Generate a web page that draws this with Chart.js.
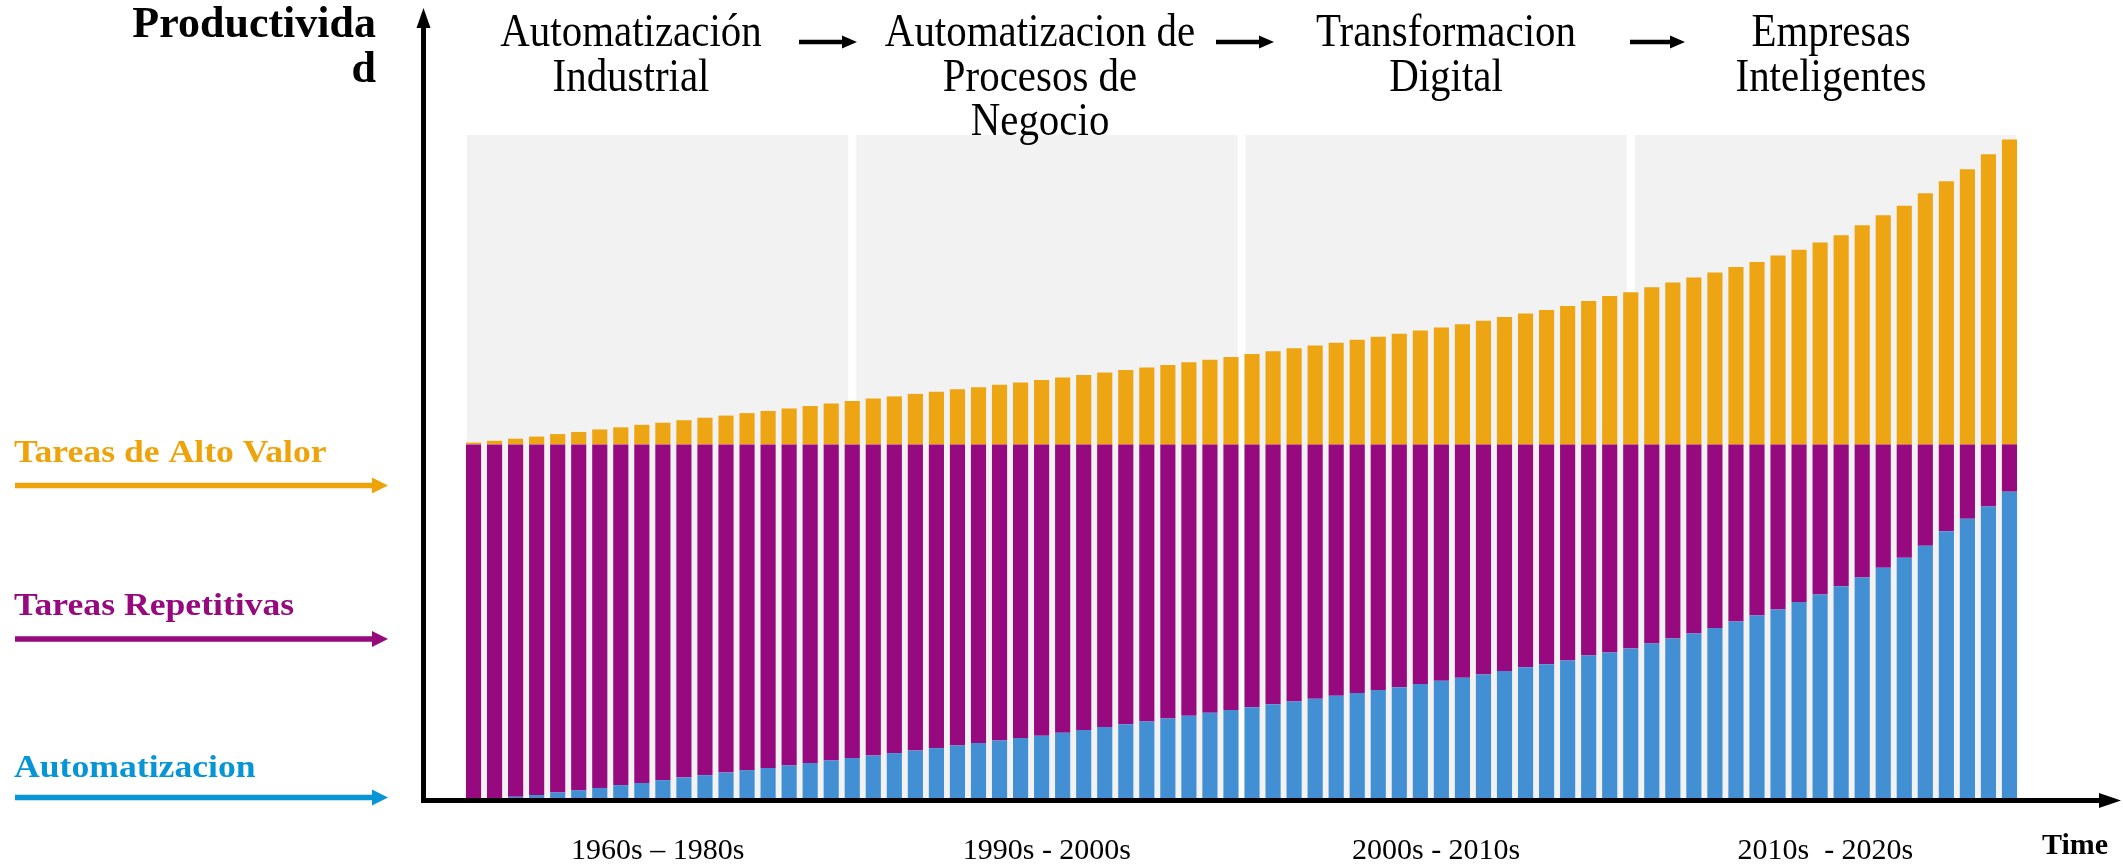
<!DOCTYPE html>
<html>
<head>
<meta charset="utf-8">
<script src="https://cdn.jsdelivr.net/npm/chart.js@4.4.1/dist/chart.umd.min.js"></script>
<style>
  body { margin: 0; background: #fff; }
  #wrap { width: 2123px; height: 865px; position: relative; }
</style>
</head>
<body>
<div id="wrap"><canvas id="chart"></canvas></div>
<script>
// bottom layer, blue
const automatizacion = [
  0, 0.3, 0.9, 1.4, 2.1, 2.7, 3.4, 4.2, 4.8, 5.6,
  6.3, 7.0, 7.7, 8.4, 9.0, 9.7, 10.4, 11.1, 11.8, 12.5,
  13.2, 13.9, 14.6, 15.3, 16.0, 16.7, 17.4, 18.1, 18.9, 19.7,
  20.5, 21.3, 22.1, 22.9, 23.7, 24.5, 25.3, 26.1, 26.9, 27.7,
  28.5, 29.3, 30.1, 30.9, 31.7, 32.6, 33.5, 34.4, 35.3, 36.3,
  37.3, 38.2, 39.2, 40.6, 41.5, 42.6, 44.0, 45.4, 46.8, 48.4,
  50.2, 51.9, 53.6, 55.7, 57.8, 60.1, 62.6, 65.3, 68.1, 71.5,
  75.6, 79.1, 82.5, 86.7
];

// middle layer, purple (blue + purple always reaches 100)
const repetitivas = [
  100, 99.7, 99.1, 98.6, 97.9, 97.3, 96.6, 95.8, 95.2, 94.4,
  93.7, 93.0, 92.3, 91.6, 91.0, 90.3, 89.6, 88.9, 88.2, 87.5,
  86.8, 86.1, 85.4, 84.7, 84.0, 83.3, 82.6, 81.9, 81.1, 80.3,
  79.5, 78.7, 77.9, 77.1, 76.3, 75.5, 74.7, 73.9, 73.1, 72.3,
  71.5, 70.7, 69.9, 69.1, 68.3, 67.4, 66.5, 65.6, 64.7, 63.7,
  62.7, 61.8, 60.8, 59.4, 58.5, 57.4, 56.0, 54.6, 53.2, 51.6,
  49.8, 48.1, 46.4, 44.3, 42.2, 39.9, 37.4, 34.7, 31.9, 28.5,
  24.4, 20.9, 17.5, 13.3
];

// top layer, orange
const altoValor = [
  0.5, 1.0, 1.6, 2.2, 2.9, 3.5, 4.2, 4.8, 5.5, 6.1,
  6.8, 7.5, 8.1, 8.8, 9.4, 10.1, 10.8, 11.5, 12.2, 12.9,
  13.5, 14.2, 14.8, 15.5, 16.1, 16.8, 17.4, 18.1, 18.8, 19.5,
  20.2, 20.9, 21.6, 22.3, 23.1, 23.8, 24.6, 25.4, 26.2, 27.0,
  27.8, 28.6, 29.4, 30.3, 31.1, 32.0, 32.9, 33.8, 34.8, 35.8,
  36.8, 37.8, 38.9, 40.3, 41.7, 42.8, 44.2, 45.5, 46.9, 48.3,
  49.9, 51.3, 53.1, 54.7, 56.8, 58.8, 61.6, 64.4, 67.1, 70.6,
  74.0, 77.4, 81.6, 85.7
];

const eraTitles = [
  ["Automatización", "Industrial"],
  ["Automatizacion de", "Procesos de", "Negocio"],
  ["Transformacion", "Digital"],
  ["Empresas", "Inteligentes"]
];
const eraLabels = ["1960s – 1980s", "1990s - 2000s", "2000s - 2010s", "2010s  - 2020s"];
const eraBreaks = [0, 18.5, 37, 55.5, 74];

const categories = automatizacion.map((v, i) => String(i + 1));

const ORANGE = "#EDA514";
const PURPLE = "#970A7F";
const BLUE = "#428FD3";

function arrow(ctx, x1, y1, x2, y2, color, width, headLen, headW) {
  const ang = Math.atan2(y2 - y1, x2 - x1);
  const bx = x2 - Math.cos(ang) * headLen;
  const by = y2 - Math.sin(ang) * headLen;
  ctx.save();
  ctx.strokeStyle = color;
  ctx.fillStyle = color;
  ctx.lineWidth = width;
  ctx.beginPath();
  ctx.moveTo(x1, y1);
  ctx.lineTo(bx, by);
  ctx.stroke();
  ctx.beginPath();
  ctx.moveTo(x2, y2);
  ctx.lineTo(bx - Math.sin(ang) * headW / 2, by + Math.cos(ang) * headW / 2);
  ctx.lineTo(bx + Math.sin(ang) * headW / 2, by - Math.cos(ang) * headW / 2);
  ctx.closePath();
  ctx.fill();
  ctx.restore();
}

// text stretched or squeezed horizontally, anchored per ctx.textAlign
function stretchedText(ctx, text, x, y, sx) {
  ctx.save();
  ctx.translate(x, y);
  ctx.scale(sx, 1);
  ctx.fillText(text, 0, 0);
  ctx.restore();
}

const eraPanels = {
  id: "eraPanels",
  beforeDatasetsDraw(chart) {
    const { ctx, chartArea } = chart;
    const step = (chartArea.right - chartArea.left) / categories.length;
    ctx.save();
    ctx.fillStyle = "#F2F2F2";
    for (let i = 0; i < 4; i++) {
      const x0 = chartArea.left + eraBreaks[i] * step + 4;
      const x1 = chartArea.left + eraBreaks[i + 1] * step - 4;
      ctx.fillRect(x0, chartArea.top, x1 - x0, chartArea.bottom - chartArea.top);
    }
    ctx.restore();
  }
};

const decorations = {
  id: "decorations",
  afterDraw(chart) {
    const { ctx, chartArea } = chart;
    const step = (chartArea.right - chartArea.left) / categories.length;
    const base = chart.scales.y.getPixelForValue(0);

    // axes
    arrow(ctx, 423.5, base + 2.5, 423.5, 8, "#000", 5, 20, 14);
    arrow(ctx, 421, base + 0.5, 2121, base + 0.5, "#000", 5, 22, 15);

    ctx.save();
    ctx.fillStyle = "#000";
    ctx.textBaseline = "middle";

    // y title
    ctx.font = "bold 44px 'Liberation Serif'";
    ctx.textAlign = "right";
    ctx.fillText("Productivida", 376, 26);
    ctx.fillText("d", 376, 71);

    // x title
    ctx.font = "bold 30px 'Liberation Serif'";
    ctx.textAlign = "left";
    ctx.fillText("Time", 2042, 846);

    // era titles on top
    const titleX = [631, 1040, 1446, 1831];
    ctx.font = "46px 'Liberation Serif'";
    ctx.textAlign = "center";
    eraTitles.forEach((lines, i) => {
      lines.forEach((t, j) => stretchedText(ctx, t, titleX[i], 34 + j * 44.5, 0.89));
    });
    arrow(ctx, 799, 42, 857, 42, "#000", 4.5, 15, 13);
    arrow(ctx, 1216, 42, 1274, 42, "#000", 4.5, 15, 13);
    arrow(ctx, 1630, 42, 1685, 42, "#000", 4.5, 15, 13);

    // era labels below the axis
    ctx.font = "30px 'Liberation Serif'";
    eraLabels.forEach((t, i) => {
      const cx = chartArea.left + (eraBreaks[i] + eraBreaks[i + 1]) / 2 * step;
      ctx.fillText(t, cx, 851);
    });

    // series labels on the left
    ctx.textAlign = "left";
    ctx.textBaseline = "alphabetic";
    ctx.font = "bold 31px 'Liberation Serif'";
    ctx.fillStyle = "#EFA30A";
    stretchedText(ctx, "Tareas de Alto Valor", 14, 462, 1.15);
    ctx.fillStyle = "#960A7D";
    stretchedText(ctx, "Tareas Repetitivas", 14, 615, 1.15);
    ctx.fillStyle = "#0895D6";
    stretchedText(ctx, "Automatizacion", 14, 777, 1.15);
    ctx.restore();

    arrow(ctx, 15, 485.5, 388, 485.5, "#EFA30A", 5.5, 16, 16);
    arrow(ctx, 15, 639, 388, 639, "#960A7D", 5.5, 16, 16);
    arrow(ctx, 15, 797.5, 388, 797.5, "#0895D6", 5.5, 16, 16);
  }
};

new Chart(document.getElementById("chart"), {
  type: "bar",
  data: {
    labels: categories,
    datasets: [
      { label: "Automatizacion", data: automatizacion, backgroundColor: BLUE },
      { label: "Tareas Repetitivas", data: repetitivas, backgroundColor: PURPLE },
      { label: "Tareas de Alto Valor", data: altoValor, backgroundColor: ORANGE }
    ]
  },
  options: {
    responsive: true,
    maintainAspectRatio: false,
    animation: false,
    layout: { padding: { left: 463, right: 103, top: 135, bottom: 65 } },
    datasets: { bar: { barPercentage: 0.72, categoryPercentage: 1.0 } },
    plugins: { legend: { display: false }, tooltip: { enabled: false } },
    scales: {
      x: { stacked: true, display: false },
      y: { stacked: true, display: false, min: 0, max: 187 }
    }
  },
  plugins: [eraPanels, decorations]
});
</script>
</body>
</html>
